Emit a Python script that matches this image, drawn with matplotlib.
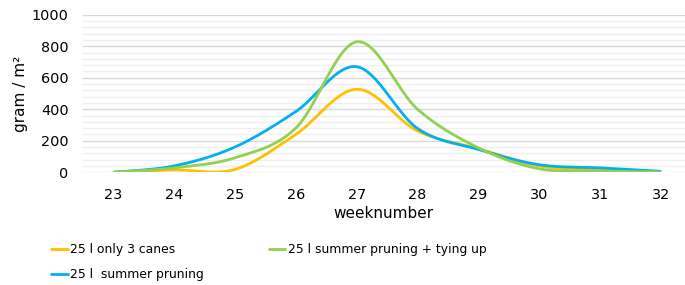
import numpy as np
import matplotlib.pyplot as plt
from matplotlib.ticker import MultipleLocator

weeks = [23, 24, 25, 26, 27, 28, 29, 30, 31, 32]
only_3_canes = [0, 15, 18, 240, 527, 262, 150, 40, 15, 5]
summer_pruning = [0, 40, 160, 385, 670, 278, 145, 48, 28, 6]
pruning_tying = [0, 28, 92, 280, 828, 400, 155, 22, 8, 2]

labels = ['25 l only 3 canes', '25 l  summer pruning', '25 l summer pruning + tying up']
colors = ['#FFC000', '#00B0F0', '#92D050']


def smooth(x, y, n=40):
    # excel-like smoothed line (catmull-rom bezier through the points)
    x = np.asarray(x, float)
    y = np.asarray(y, float)
    px = np.concatenate([[x[0]], x, [x[-1]]])
    py = np.concatenate([[y[0]], y, [y[-1]]])
    t = np.linspace(0, 1, n)[:, None]
    xs, ys = [], []
    for i in range(1, len(px) - 2):
        p0 = np.array([px[i], py[i]])
        p3 = np.array([px[i + 1], py[i + 1]])
        c1 = p0 + (np.array([px[i + 1], py[i + 1]]) - np.array([px[i - 1], py[i - 1]])) / 6
        c2 = p3 - (np.array([px[i + 2], py[i + 2]]) - np.array([px[i], py[i]])) / 6
        pts = (1 - t) ** 3 * p0 + 3 * (1 - t) ** 2 * t * c1 + 3 * (1 - t) * t ** 2 * c2 + t ** 3 * p3
        xs.append(pts[:, 0])
        ys.append(pts[:, 1])
    return np.concatenate(xs), np.concatenate(ys)


fig = plt.figure(figsize=(6.85, 2.85), dpi=100)
ax = fig.add_axes([82.5 / 685, 1 - 172.3 / 285, 1 - 82.5 / 685, (172.3 - 14.7) / 285])

for vals, lab, col in zip([only_3_canes, summer_pruning, pruning_tying], labels, colors):
    sx, sy = smooth(weeks, vals)
    ax.plot(sx, sy, color=col, lw=2.2, label=lab, solid_capstyle='butt')

ax.set_xlim(22.5, 32.39)
ax.set_ylim(0, 1000)
ax.set_xticks(weeks)
ax.yaxis.set_major_locator(MultipleLocator(200))
ax.yaxis.set_minor_locator(MultipleLocator(40))
ax.grid(axis='y', which='major', color='#D9D9D9', lw=1)
ax.grid(axis='y', which='minor', color='#EFEFEF', lw=1)
ax.set_axisbelow(True)
for s in ax.spines.values():
    s.set_visible(False)
ax.tick_params(axis='both', which='both', length=0, labelsize=10.4, colors='#000000')
ax.tick_params(axis='y', pad=10)
ax.tick_params(axis='x', pad=11)
ax.set_xlabel('weeknumber', fontsize=11, labelpad=3)
ax.set_ylabel('gram / m²', fontsize=11, labelpad=3)

handles, labs = ax.get_legend_handles_labels()
for h in handles:
    h.set_linewidth(2.0)
fig.legend(handles, labs, ncol=2, loc='upper left', bbox_to_anchor=(50 / 685, 1 - 243 / 285),
           frameon=False, fontsize=8.9, handlelength=1.5, handletextpad=0.1,
           columnspacing=5.2, labelspacing=1.0, borderpad=0, borderaxespad=0)

fig.savefig('out.png', dpi=100)
